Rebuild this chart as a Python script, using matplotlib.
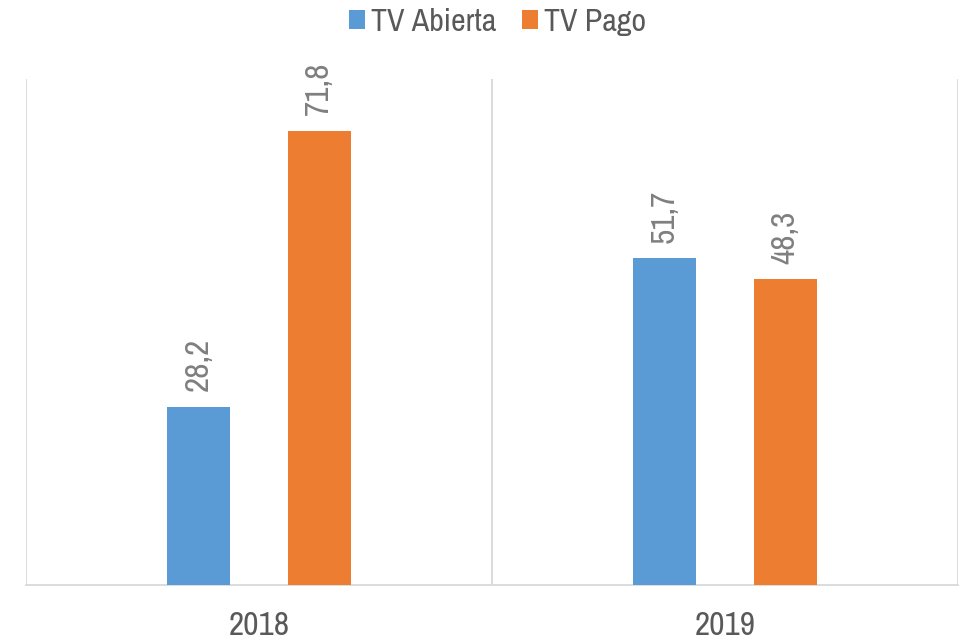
import matplotlib.pyplot as plt
import numpy as np

years = ["2018", "2019"]
series = ["TV Abierta", "TV Pago"]
tv_abierta = [28.2, 51.7]
tv_pago = [71.8, 48.3]
colors = ["#5B9BD5", "#ED7D31"]

plt.rcParams["font.family"] = ["Archivo Narrow", "Liberation Sans", "DejaVu Sans"]

fig = plt.figure(figsize=(9.64, 6.41), dpi=100)
ax = fig.add_axes([0.027, 0.0874, 0.9668, 0.7896])

x = np.arange(len(years))
width = 0.135
offset = 0.129

for vals, name, col, sh in zip([tv_abierta, tv_pago], series, colors, [-offset, offset]):
    bars = ax.bar(x + sh, vals, width, color=col, label=name, zorder=3)
    for b, v in zip(bars, vals):
        ax.annotate(
            f"{v:.1f}".replace(".", ","),
            (b.get_x() + b.get_width() / 2, v),
            xytext=(0, 11),
            textcoords="offset points",
            rotation=90,
            ha="center",
            va="bottom",
            fontsize=24,
            color="#7F7F7F",
        )

ax.set_xlim(-0.5, 1.5)
ax.set_ylim(0, 80)
ax.set_yticks([])
ax.set_xticks(x)
ax.set_xticklabels(years, fontsize=24, color="#595959")
ax.tick_params(axis="x", length=0, pad=19)

for xv in [-0.5, 0.5, 1.5]:
    ax.axvline(xv, color="#D9D9D9", lw=1.3, zorder=1)

for s in ["left", "right", "top"]:
    ax.spines[s].set_visible(False)
ax.spines["bottom"].set_color("#D9D9D9")
ax.spines["bottom"].set_linewidth(1.3)

leg = fig.legend(
    loc="center",
    bbox_to_anchor=(0.516, 0.966),
    ncol=2,
    frameon=False,
    fontsize=23,
    handlelength=0.5,
    handleheight=0.5,
    handletextpad=0.2,
    columnspacing=0.8,
)
for t in leg.get_texts():
    t.set_color("#595959")

fig.savefig("out.png", dpi=100)
